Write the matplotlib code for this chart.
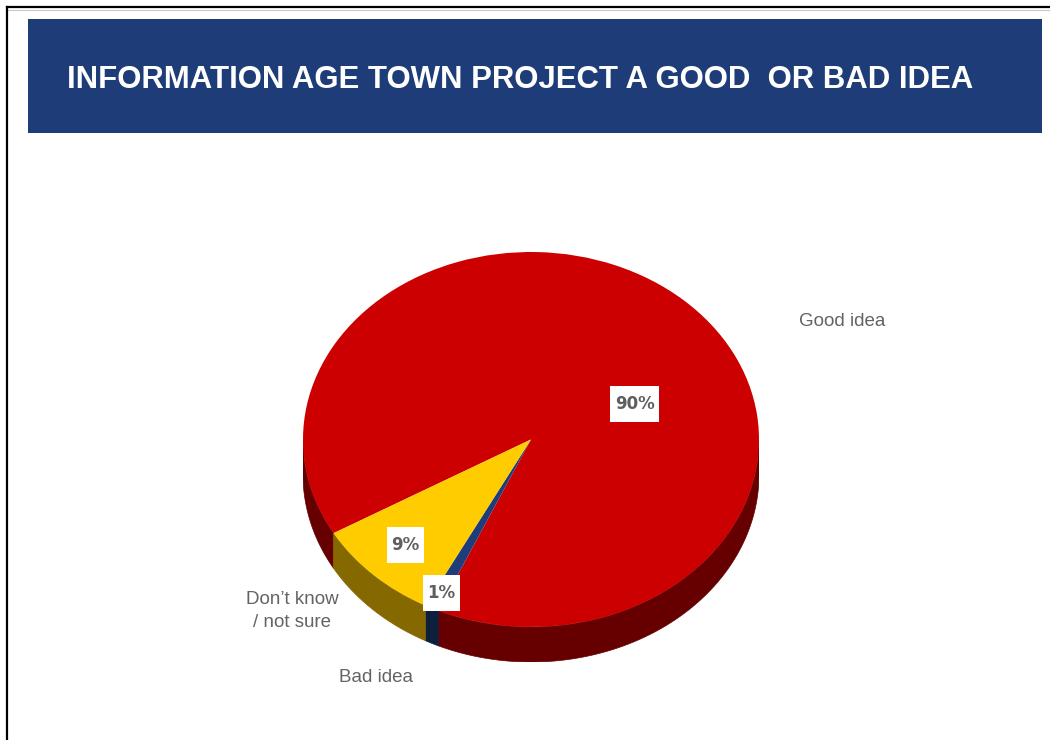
import numpy as np
import matplotlib.pyplot as plt
from matplotlib.patches import Rectangle, Polygon
from matplotlib.lines import Line2D

plt.rcParams['font.family'] = ['Liberation Sans', 'DejaVu Sans']

title = "INFORMATION AGE TOWN PROJECT A GOOD  OR BAD IDEA"
categories = ["Good idea", "Bad idea", "Don\u2019t know\n/ not sure"]
shares = [90, 1, 9]
pct_labels = ["90%", "1%", "9%"]
top_colors = ["#cc0000", "#1f3d7a", "#ffcc00"]
side_colors = ["#660000", "#0c1f3d", "#866800"]

W, H = 1050, 740
fig = plt.figure(figsize=(W / 100, H / 100), dpi=100)


def fx(x):
    return x / W


def fy(y):
    return 1 - y / H


# page frame and title banner
fig.add_artist(Line2D([fx(7), 1], [fy(7), fy(7)], color="black", lw=1.6))
fig.add_artist(Line2D([fx(7), 1], [fy(9.5), fy(9.5)], color="#c8c8c8", lw=0.8))
fig.add_artist(Line2D([fx(7), fx(7)], [fy(7), 0], color="black", lw=1.6))
fig.add_artist(Rectangle((fx(28), fy(133)), fx(1042) - fx(28), fy(19) - fy(133),
                         transform=fig.transFigure, color="#1e3d78", lw=0))
fig.text(fx(67), fy(77), title, color="white", fontsize=22.45, fontweight="bold",
         ha="left", va="center_baseline")

# tilted pie: top face is a squashed circle, depth is drawn as side bands
depth = 0.187
ax = fig.add_axes([fx(303), fy(662), fx(759) - fx(303), fy(252) - fy(662)])
wedges, _ = ax.pie(shares, colors=top_colors, startangle=210, counterclock=False,
                   wedgeprops=dict(linewidth=0, antialiased=True))
for w in wedges:
    w.set_zorder(3)
ax.set_aspect("auto")
ax.set_xlim(-1, 1)
ax.set_ylim(-1 - depth, 1)
ax.axis("off")

for w, sc in zip(wedges, side_colors):
    t1, t2 = w.theta1, w.theta2
    for k in (-1, 0, 1):
        a = max(t1, 180 + 360 * k)
        b = min(t2, 360 + 360 * k)
        if b <= a:
            continue
        t = np.radians(np.linspace(a, b, 200))
        xs = np.cos(t)
        ys = np.sin(t)
        pts = np.column_stack([np.r_[xs, xs[::-1]], np.r_[ys, ys[::-1] - depth]])
        ax.add_patch(Polygon(pts, closed=True, color=sc, lw=0.5, zorder=2))

# value labels on white boxes (box edges in pixels: left, top, right, bottom)
pct_boxes = [(610, 386, 659, 422), (423, 575, 460, 611), (387, 527, 424, 563)]
for txt, (x0, y0, x1, y1) in zip(pct_labels, pct_boxes):
    fig.add_artist(Rectangle((fx(x0), fy(y1)), fx(x1) - fx(x0), fy(y0) - fy(y1),
                             transform=fig.transFigure, color="white", lw=0,
                             zorder=4))
    fig.text(fx((x0 + x1) / 2), fy((y0 + y1) / 2), txt, color="#5f5f5f",
             fontsize=12, fontweight="bold", family="DejaVu Sans",
             ha="center", va="center", zorder=5)

# category labels
cat_pos = [(842, 321), (376, 677), (292, 611)]
for txt, (x, y) in zip(categories, cat_pos):
    fig.text(fx(x), fy(y), txt, color="#636363", fontsize=13.5, ha="center",
             va="center", linespacing=1.4)

fig.savefig("out.png", dpi=100, facecolor="white")
